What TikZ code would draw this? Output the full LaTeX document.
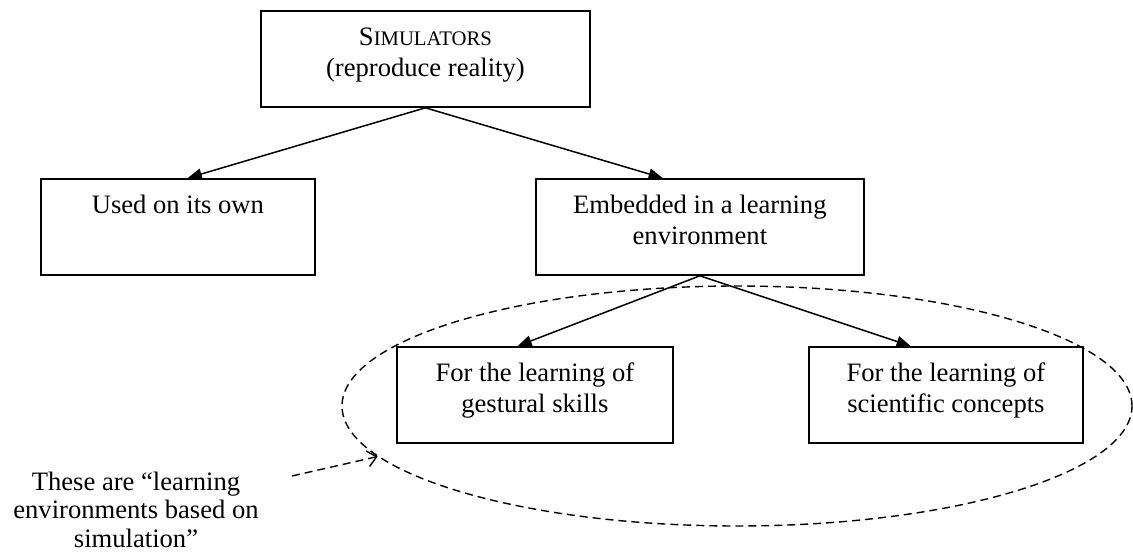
\documentclass[tikz,border=0pt]{standalone}
\usepackage{fontspec}
\setmainfont{Liberation Serif}
\usetikzlibrary{arrows.meta,calc,shapes.geometric}
\newcommand\bxfont{\fontsize{26.6}{31}\selectfont}
\newcommand\boxtxt[2]{\parbox[c][96pt][t]{#1}{\centering\rule{0pt}{35pt}#2}}
\tikzset{
  stepbox/.style={draw, line width=1.8pt, inner sep=0pt, anchor=north west, font=\bxfont},
  link/.style={line width=1.5pt, -{Triangle[length=14pt,width=11pt]}},
  dashline/.style={line width=1.4pt, dash pattern=on 8pt off 5pt},
}
\begin{document}
\begin{tikzpicture}[x=1pt,y=-1pt]
\useasboundingbox (0,0) rectangle (1133,553);
\node[stepbox] (sim) at (260,10) {\boxtxt{329pt}{S{\fontsize{20.7}{31}\selectfont IMULATORS}\\(reproduce reality)}};
\node[stepbox] (used) at (40,178) {\boxtxt{274pt}{Used on its own}};
\node[stepbox] (emb) at (535,178) {\boxtxt{328pt}{Embedded in a learning\\environment}};
\node[stepbox] (gest) at (396,346) {\boxtxt{276pt}{For the learning of\\gestural skills}};
\node[stepbox] (sci) at (808,346) {\boxtxt{274pt}{For the learning of\\scientific concepts}};
\draw[link] (sim.south) -- ($(used.north west)!0.536!(used.north east)$);
\draw[link] (sim.south) -- ($(emb.north west)!0.387!(emb.north east)$);
\draw[link] (emb.south) -- ($(gest.north west)!0.438!(gest.north east)$);
\draw[link] (emb.south) -- ($(sci.north west)!0.372!(sci.north east)$);
\node[draw, dashline, ellipse, minimum width=790pt, minimum height=240pt, inner sep=0pt] (grp) at (737,406) {};
\node[font=\fontsize{26.6}{28.5}\selectfont, align=center, anchor=base] (note) at (136,547) {These are “learning\\environments based on\\simulation”};
\coordinate (nstart) at (292,476);
\draw[dashline, -{Straight Barb[length=9pt,width=16pt]}] (nstart) -- (grp.188);
\end{tikzpicture}
\end{document}
